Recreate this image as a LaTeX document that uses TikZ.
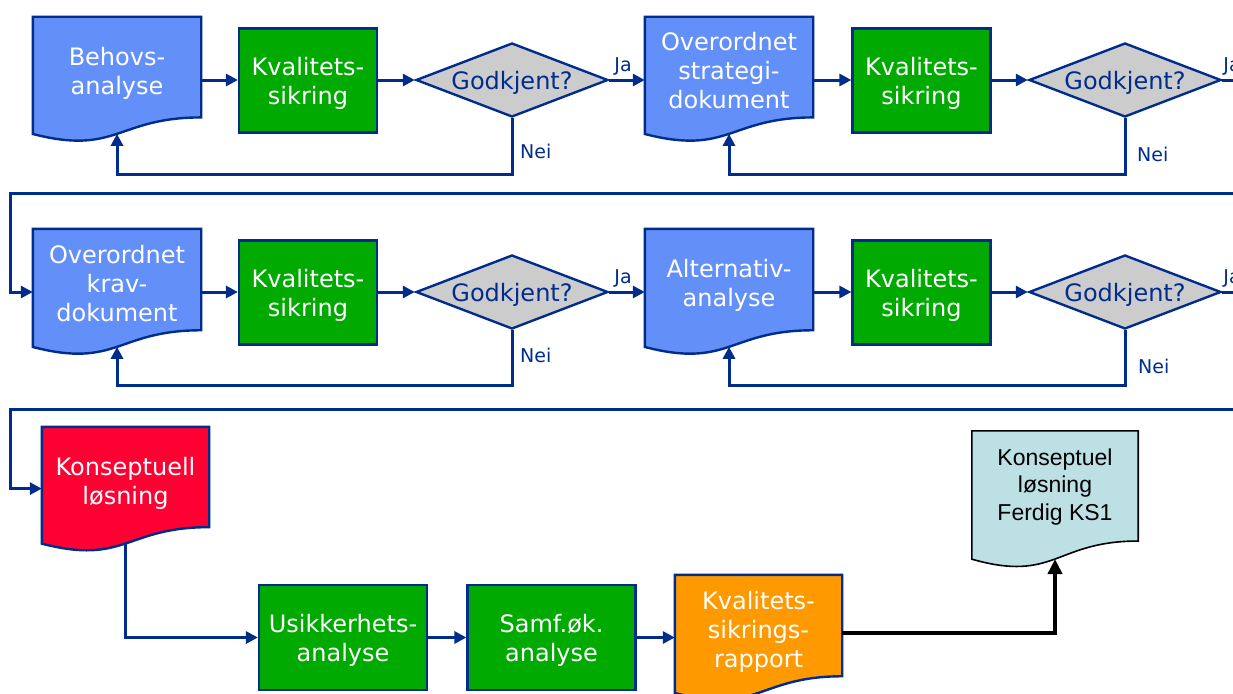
\documentclass[tikz,border=0pt]{standalone}
\usepackage{fontspec}
\setmainfont{DejaVu Sans}
\newfontfamily\arialf{Liberation Sans}
\usetikzlibrary{arrows.meta,shapes.geometric,calc}
\pgfdeclarelayer{bottom}
\pgfdeclarelayer{background}
\pgfsetlayers{bottom,background,main}
\definecolor{navy}{RGB}{0,45,140}
\definecolor{docblue}{RGB}{99,144,248}
\definecolor{qgreen}{RGB}{0,170,0}
\definecolor{diagray}{RGB}{204,204,204}
\definecolor{konred}{RGB}{255,0,51}
\definecolor{raporange}{RGB}{255,153,0}
\definecolor{ksblue}{RGB}{188,224,228}
\newcommand\docshape[4]{%
  \begin{pgfonlayer}{background}
  \path[fill=#2,draw=#3,line width=#4,line join=miter]
    (#1.north west) -- (#1.north east)
    -- ($(#1.north east)!0.9326!(#1.south east)$)
    .. controls ($(#1.north)!0.9326!(#1.south)$) and ($(#1.north)!1.2872!(#1.south)$)
    .. ($(#1.north west)!1.0860!(#1.south west)$) -- cycle;
  \end{pgfonlayer}
  \coordinate (#1-b) at ($(#1.north)!1.0849!(#1.south)$);
}
\tikzset{
  txt/.style={font=\fontsize{24}{29}\selectfont, align=center, text depth=0pt},
  doc/.style={txt, inner sep=0pt, text=white, minimum width=168pt},
  qbox/.style={txt, draw=navy, fill=qgreen, line width=2.2pt, text=white, inner sep=0pt,
    minimum width=138pt, minimum height=104pt},
  dia/.style={diamond, draw=navy, fill=diagray, line width=2.4pt, inner sep=0pt, aspect=2.6,
    minimum width=192pt, minimum height=74pt, text=navy, text depth=0pt,
    font=\fontsize{24}{29}\selectfont},
  lbl/.style={font=\fontsize{19}{23}\selectfont, text=navy, inner sep=0pt},
  conn/.style={draw=navy, line width=3pt, -{Triangle[length=12pt,width=12pt]}},
  blk/.style={draw=black, line width=4pt, -{Triangle[length=15pt,width=14pt]}},
}
\begin{document}
\begin{tikzpicture}[x=1pt,y=-1pt]
\useasboundingbox (0,0) rectangle (1233,693);
\begin{pgfonlayer}{bottom}
\fill[white] (0,0) rectangle (1233,693);
\end{pgfonlayer}
\clip (0,0) rectangle (1233,693);

% ---------- Row 1
\node[doc, minimum height=107.5pt] (d1) at (117,70.75) {Behovs-\\analyse};
\docshape{d1}{docblue}{navy}{2.4pt}
\node[qbox] (k1) at (308,80.5) {Kvalitets-\\sikring};
\node[dia] (g1) at (512,80) {Godkjent?};
\node[doc, minimum height=107.5pt] (d2) at (729,70.75) {Overordnet\\strategi-\\dokument};
\docshape{d2}{docblue}{navy}{2.4pt}
\node[qbox] (k2) at (921.5,80.5) {Kvalitets-\\sikring};
\node[dia] (g2) at (1125,80) {Godkjent?};

\draw[conn] (d1.east |- g1.west) -- (k1.west |- g1.west);
\draw[conn] (k1.east |- g1.west) -- (g1.west);
\draw[conn] (g1.east) -- (d2.west |- g1.east);
\draw[conn] (d2.east |- g2.west) -- (k2.west |- g2.west);
\draw[conn] (k2.east |- g2.west) -- (g2.west);
\node[lbl, anchor=south west] (ja1) at ($(g1.east)+(5,-4)$) {Ja};
\node[lbl, anchor=south west] (ja2) at ($(g2.east)+(1,-4)$) {Ja};
\draw[conn] (g1.south) -- ++(0,56) -| (d1-b);
\draw[conn] (g2.south) -- ++(0,56) -| (d2-b);
\node[lbl, anchor=west] (nei1) at ($(g1.south)+(8,33)$) {Nei};
\node[lbl, anchor=west] (nei2) at ($(g2.south)+(12,36)$) {Nei};

% ---------- Row 2
\node[doc, minimum height=108.4pt] (d3) at (117,283.2) {Overordnet\\krav-\\dokument};
\docshape{d3}{docblue}{navy}{2.4pt}
\node[qbox] (k3) at (308,292.5) {Kvalitets-\\sikring};
\node[dia] (g3) at (512,292) {Godkjent?};
\node[doc, minimum height=108.4pt] (d4) at (729,283.2) {Alternativ-\\analyse};
\docshape{d4}{docblue}{navy}{2.4pt}
\node[qbox] (k4) at (921.5,292.5) {Kvalitets-\\sikring};
\node[dia] (g4) at (1125,292) {Godkjent?};

\draw[conn] (g2.east) -- (1260,80) |- (10,193) |- (d3.west |- g3.west);
\draw[conn] (d3.east |- g3.west) -- (k3.west |- g3.west);
\draw[conn] (k3.east |- g3.west) -- (g3.west);
\draw[conn] (g3.east) -- (d4.west |- g3.east);
\draw[conn] (d4.east |- g4.west) -- (k4.west |- g4.west);
\draw[conn] (k4.east |- g4.west) -- (g4.west);
\node[lbl, anchor=south west] (ja3) at ($(g3.east)+(5,-4)$) {Ja};
\node[lbl, anchor=south west] (ja4) at ($(g4.east)+(1,-4)$) {Ja};
\draw[conn] (g3.south) -- (g3.south |- 0,385) -| (d3-b);
\draw[conn] (g4.south) -- (g4.south |- 0,385) -| (d4-b);
\node[lbl, anchor=west] (nei3) at ($(g3.south)+(8,25)$) {Nei};
\node[lbl, anchor=west] (nei4) at ($(g4.south)+(13,36)$) {Nei};

% ---------- Row 3
\node[doc, minimum width=167pt, minimum height=107.2pt] (d5) at (125.5,480.6) {Konseptuell\\løsning};
\docshape{d5}{konred}{navy}{2.4pt}
\draw[conn] (g4.east) -- (1260,292) |- (10,409) |- ($(d5.west)+(0,8)$);

\node[qbox, minimum width=168pt, minimum height=105pt] (k5) at (343,637.5) {Usikkerhets-\\analyse};
\node[qbox, minimum width=168pt, minimum height=105pt] (k6) at (551.5,637.5) {Samf.øk.\\analyse};
\node[doc, minimum width=167pt, minimum height=108.4pt] (d6) at (758.5,629.2) {Kvalitets-\\sikrings-\\rapport};
\docshape{d6}{raporange}{navy}{2.4pt}
\node[inner sep=0pt, minimum width=166pt, minimum height=117.8pt, align=center, text=black,
  font=\arialf\fontsize{23}{27.5}\selectfont, text depth=11pt] (d7) at (1055,489.9) {Konseptuel\\løsning\\Ferdig KS1};
\docshape{d7}{ksblue}{black}{1.6pt}

\draw[conn] (d5-b) |- (k5.west);
\draw[conn] (k5.east) -- (k6.west);
\draw[conn] (k6.east) -- (d6.west |- k6.east);
\draw[blk] ($(d6.east)+(0,4)$) -| (d7-b);
\end{tikzpicture}
\end{document}
